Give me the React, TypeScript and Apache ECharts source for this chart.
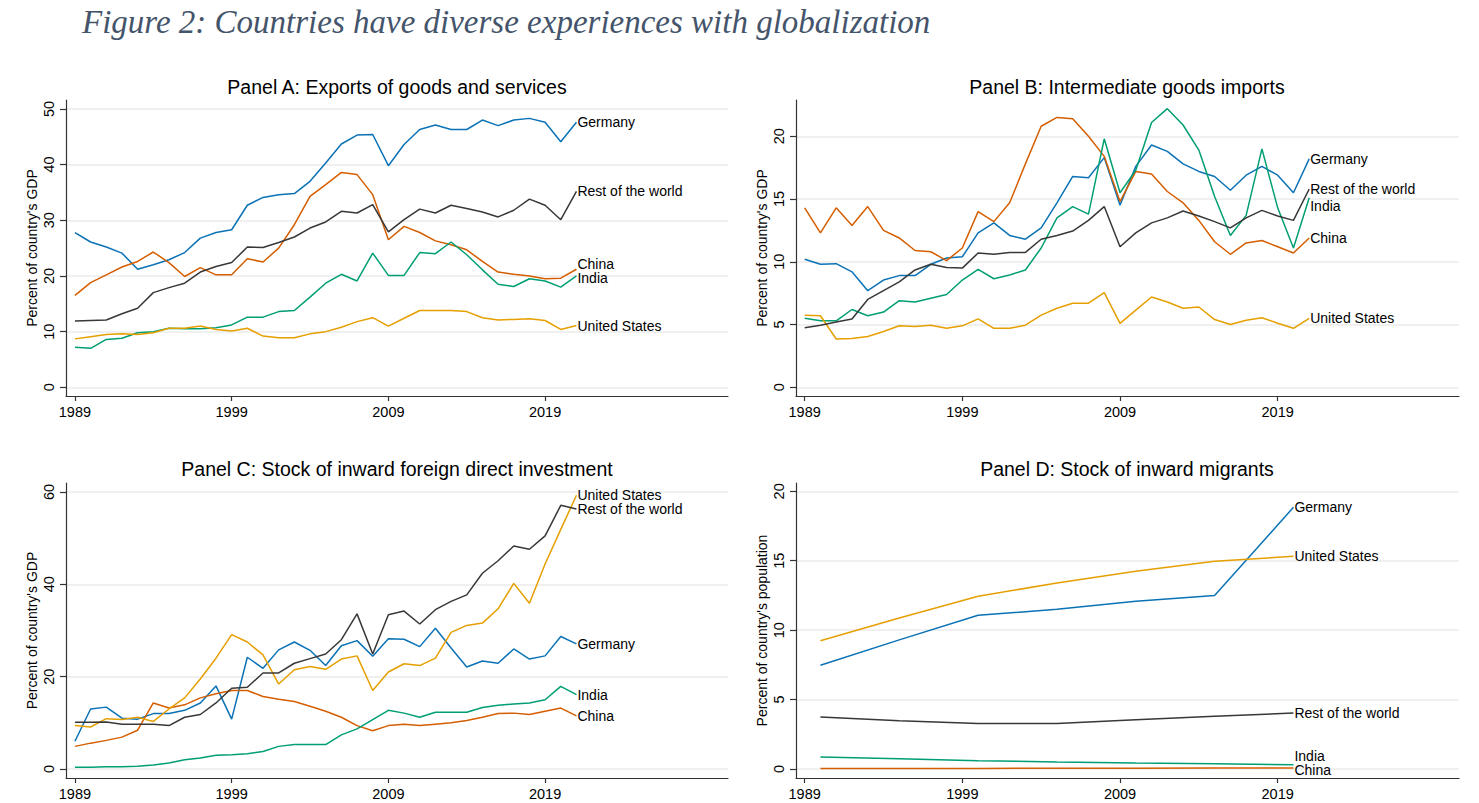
import React, { useEffect, useRef } from "react";
import * as echarts from "echarts";

// ---------- data ----------
const years = [1989, 1990, 1991, 1992, 1993, 1994, 1995, 1996, 1997, 1998, 1999, 2000, 2001, 2002, 2003, 2004, 2005, 2006, 2007, 2008, 2009, 2010, 2011, 2012, 2013, 2014, 2015, 2016, 2017, 2018, 2019, 2020, 2021];
const migrantYears = [1990, 1995, 2000, 2005, 2010, 2015, 2020];
const xTicks = [1989, 1999, 2009, 2019];

// Panel A: exports of goods and services (% of GDP)
const exportsGermany = [27.8, 26.1, 25.2, 24.1, 21.2, 22.0, 22.9, 24.2, 26.8, 27.8, 28.3, 32.7, 34.1, 34.6, 34.8, 37.0, 40.3, 43.7, 45.3, 45.4, 39.8, 43.6, 46.3, 47.1, 46.3, 46.3, 48.0, 47.0, 48.0, 48.3, 47.6, 44.1, 47.6];
const exportsChina = [16.5, 18.8, 20.2, 21.6, 22.6, 24.3, 22.4, 19.9, 21.5, 20.2, 20.2, 23.1, 22.5, 25.0, 29.2, 34.3, 36.4, 38.6, 38.2, 34.6, 26.5, 28.9, 27.8, 26.3, 25.6, 24.7, 22.6, 20.7, 20.3, 20.0, 19.5, 19.6, 21.2];
const exportsIndia = [7.2, 7.0, 8.6, 8.8, 9.8, 10.0, 10.6, 10.5, 10.5, 10.7, 11.2, 12.6, 12.6, 13.6, 13.8, 16.2, 18.7, 20.3, 19.1, 24.1, 20.1, 20.1, 24.2, 24.0, 26.1, 23.8, 21.1, 18.5, 18.1, 19.5, 19.1, 18.0, 20.0];
const exportsUS = [8.7, 9.1, 9.5, 9.6, 9.5, 9.8, 10.6, 10.6, 11.0, 10.4, 10.1, 10.6, 9.2, 8.9, 8.9, 9.6, 10.0, 10.8, 11.8, 12.5, 11.0, 12.4, 13.8, 13.8, 13.8, 13.6, 12.5, 12.1, 12.2, 12.3, 12.0, 10.4, 11.1];
const exportsRoW = [11.9, 12.0, 12.1, 13.2, 14.2, 17.0, 17.9, 18.7, 20.7, 21.7, 22.4, 25.2, 25.1, 26.0, 27.0, 28.6, 29.7, 31.6, 31.3, 32.8, 27.9, 30.1, 32.0, 31.3, 32.7, 32.1, 31.5, 30.6, 31.8, 33.8, 32.7, 30.1, 35.2];

// Panel B: intermediate goods imports (% of GDP)
const interGermany = [10.2, 9.8, 9.85, 9.2, 7.7, 8.55, 8.9, 8.9, 9.8, 10.3, 10.4, 12.3, 13.1, 12.1, 11.8, 12.7, 14.7, 16.8, 16.7, 18.3, 14.5, 17.6, 19.3, 18.8, 17.8, 17.2, 16.8, 15.7, 16.9, 17.6, 16.9, 15.5, 18.2];
const interChina = [14.3, 12.3, 14.3, 12.9, 14.4, 12.5, 11.9, 10.9, 10.8, 10.1, 11.1, 14.0, 13.2, 14.7, 17.8, 20.8, 21.5, 21.4, 20.0, 18.4, 14.8, 17.2, 17.0, 15.6, 14.7, 13.3, 11.6, 10.6, 11.5, 11.7, 11.2, 10.7, 11.9];
const interIndia = [5.5, 5.3, 5.3, 6.2, 5.7, 6.0, 6.9, 6.8, 7.1, 7.4, 8.55, 9.4, 8.65, 8.95, 9.35, 11.1, 13.5, 14.4, 13.8, 19.8, 15.5, 17.3, 21.1, 22.2, 20.9, 18.9, 15.2, 12.1, 13.7, 19.0, 14.3, 11.1, 15.1];
const interUS = [5.75, 5.7, 3.85, 3.9, 4.05, 4.45, 4.9, 4.85, 4.95, 4.7, 4.9, 5.45, 4.7, 4.7, 4.95, 5.75, 6.3, 6.7, 6.7, 7.55, 5.1, 6.15, 7.2, 6.8, 6.3, 6.4, 5.4, 5.0, 5.35, 5.55, 5.1, 4.7, 5.5];
const interRoW = [4.75, 4.95, 5.2, 5.45, 7.0, 7.7, 8.4, 9.35, 9.8, 9.55, 9.5, 10.7, 10.6, 10.75, 10.75, 11.8, 12.1, 12.45, 13.3, 14.4, 11.2, 12.3, 13.1, 13.5, 14.05, 13.65, 13.2, 12.7, 13.5, 14.1, 13.65, 13.3, 15.8];

// Panel C: stock of inward FDI (% of GDP)
const fdiGermany = [6.0, 13.0, 13.4, 11.0, 10.8, 12.0, 12.0, 12.7, 14.3, 18.0, 10.8, 24.2, 21.8, 25.8, 27.5, 25.7, 22.4, 26.7, 27.8, 24.4, 28.2, 28.1, 26.5, 30.5, 26.2, 22.1, 23.4, 22.9, 26.0, 23.8, 24.5, 28.7, 27.1];
const fdiChina = [4.9, 5.6, 6.2, 6.9, 8.4, 14.3, 13.2, 13.9, 15.4, 16.3, 17.0, 17.0, 15.7, 15.1, 14.6, 13.6, 12.5, 11.2, 9.4, 8.3, 9.4, 9.7, 9.4, 9.7, 10.0, 10.5, 11.2, 12.0, 12.1, 11.8, 12.5, 13.2, 11.5];
const fdiIndia = [0.4, 0.4, 0.5, 0.5, 0.6, 0.85, 1.3, 2.0, 2.4, 3.0, 3.1, 3.3, 3.8, 4.9, 5.3, 5.3, 5.3, 7.4, 8.7, 10.7, 12.7, 12.1, 11.2, 12.3, 12.3, 12.3, 13.3, 13.8, 14.1, 14.3, 15.0, 17.9, 16.1];
const fdiUS = [9.4, 9.1, 10.9, 10.7, 11.2, 10.3, 13.0, 15.4, 19.5, 24.0, 29.1, 27.5, 24.7, 18.4, 21.5, 22.2, 21.6, 23.8, 24.5, 17.0, 21.0, 22.8, 22.4, 24.0, 29.6, 31.1, 31.6, 34.7, 40.2, 35.9, 44.4, 51.9, 59.3];
const fdiRoW = [10.1, 10.1, 10.2, 9.7, 9.7, 9.7, 9.4, 11.2, 11.8, 14.3, 17.5, 17.7, 20.8, 20.8, 22.9, 23.9, 24.9, 28.0, 33.6, 24.9, 33.4, 34.2, 31.4, 34.5, 36.3, 37.7, 42.4, 45.1, 48.3, 47.6, 50.5, 57.1, 56.3];

// Panel D: stock of inward migrants (% of population)
const migGermany = [7.47, 9.3, 11.07, 11.5, 12.08, 12.5, 18.85];
const migChina = [0.04, 0.04, 0.04, 0.05, 0.06, 0.07, 0.07];
const migIndia = [0.86, 0.74, 0.6, 0.5, 0.43, 0.38, 0.31];
const migUS = [9.24, 10.88, 12.44, 13.4, 14.24, 14.96, 15.32];
const migRoW = [3.75, 3.48, 3.27, 3.27, 3.55, 3.79, 4.03];

const panelTitles = [
  "Panel A: Exports of goods and services",
  "Panel B: Intermediate goods imports",
  "Panel C: Stock of inward foreign direct investment",
  "Panel D: Stock of inward migrants",
];
const yTicksA = [0, 10, 20, 30, 40, 50];
const yTicksB = [0, 5, 10, 15, 20];
const yTicksC = [0, 20, 40, 60];
const yTicksD = [0, 5, 10, 15, 20];

const COLORS: Record<string, string> = {
  Germany: "#0a72b5",
  China: "#d55e00",
  India: "#009e73",
  "United States": "#e69f00",
  "Rest of the world": "#383838",
};

const SANS = "'Liberation Sans', Arial, sans-serif";

function zip(xs: number[], ys: number[]) {
  return xs.map((x, i) => [x, ys[i]]);
}

function mkSeries(idx: number, name: string, xs: number[], ys: number[], offsetY = 0) {
  return {
    type: "line",
    name,
    xAxisIndex: idx,
    yAxisIndex: idx,
    data: zip(xs, ys),
    showSymbol: false,
    symbol: "none",
    lineStyle: { color: COLORS[name], width: 1.5 },
    itemStyle: { color: COLORS[name] },
    emphasis: { disabled: true },
    endLabel: {
      show: true,
      formatter: name,
      color: "#000",
      fontFamily: SANS,
      fontSize: 14,
      lineHeight: 12,
      distance: 1,
      offset: [0, offsetY],
    },
  };
}

const gridsPx = [
  { left: 66, top: 100, width: 662, height: 296 },
  { left: 796, top: 100, width: 663, height: 296 },
  { left: 66, top: 483, width: 662, height: 295 },
  { left: 796, top: 483, width: 663, height: 295 },
];
const xRanges = [
  [1988.43, 2030.67],
  [1988.45, 2030.5],
  [1988.43, 2030.67],
  [1988.45, 2030.5],
];
const yRanges = [
  [-1.56, 51.6],
  [-0.69, 22.89],
  [-1.95, 61.94],
  [-0.65, 20.6],
];
const yTickSets = [yTicksA, yTicksB, yTicksC, yTicksD];
const yNames = ["Percent of country's GDP", "Percent of country's GDP", "Percent of country's GDP", "Percent of country's population"];
const titleCenters = [
  [397, 77],
  [1127, 77],
  [397, 459],
  [1127, 459],
];

function buildOption() {
  const axisLineStyle = { color: "#333", width: 1.2 };
  const xAxis = gridsPx.map((_, i) => ({
    type: "value",
    gridIndex: i,
    min: xRanges[i][0],
    max: xRanges[i][1],
    axisLine: { show: true, onZero: false, lineStyle: axisLineStyle },
    axisTick: { show: true, length: 5, lineStyle: axisLineStyle, customValues: xTicks },
    axisLabel: {
      show: true,
      customValues: xTicks,
      formatter: (v: number) => String(v),
      color: "#000",
      fontFamily: SANS,
      fontSize: 14.5,
      margin: 8,
    },
    splitLine: { show: false },
  }));
  const yAxis = gridsPx.map((_, i) => ({
    type: "value",
    gridIndex: i,
    min: yRanges[i][0],
    max: yRanges[i][1],
    name: yNames[i],
    nameLocation: "middle",
    nameGap: 27,
    nameRotate: 90,
    nameTextStyle: { color: "#000", fontFamily: SANS, fontSize: 14 },
    axisLine: { show: true, onZero: false, lineStyle: axisLineStyle },
    axisTick: { show: true, length: 6, lineStyle: axisLineStyle, customValues: yTickSets[i] },
    axisLabel: {
      show: true,
      rotate: 90,
      customValues: yTickSets[i],
      formatter: (v: number) => String(v),
      color: "#000",
      fontFamily: SANS,
      fontSize: 14.5,
      margin: 10,
    },
    splitLine: { show: true, lineStyle: { color: "#ebebeb", width: 1.5 } },
  }));

  const series = [
    mkSeries(0, "Germany", years, exportsGermany),
    mkSeries(0, "China", years, exportsChina, -5),
    mkSeries(0, "India", years, exportsIndia, 2),
    mkSeries(0, "United States", years, exportsUS),
    mkSeries(0, "Rest of the world", years, exportsRoW),

    mkSeries(1, "Germany", years, interGermany),
    mkSeries(1, "China", years, interChina),
    mkSeries(1, "India", years, interIndia, 8),
    mkSeries(1, "United States", years, interUS),
    mkSeries(1, "Rest of the world", years, interRoW),

    mkSeries(2, "Germany", years, fdiGermany),
    mkSeries(2, "China", years, fdiChina),
    mkSeries(2, "India", years, fdiIndia),
    mkSeries(2, "United States", years, fdiUS),
    mkSeries(2, "Rest of the world", years, fdiRoW),

    mkSeries(3, "Germany", migrantYears, migGermany),
    mkSeries(3, "China", migrantYears, migChina, 2),
    mkSeries(3, "India", migrantYears, migIndia, -9),
    mkSeries(3, "United States", migrantYears, migUS),
    mkSeries(3, "Rest of the world", migrantYears, migRoW),
  ];

  const titles: any[] = [
    {
      text: "Figure 2: Countries have diverse experiences with globalization",
      left: 82,
      top: 5,
      padding: 0,
      textStyle: {
        fontFamily: "'Liberation Serif', 'Times New Roman', serif",
        fontStyle: "italic",
        fontWeight: "normal",
        fontSize: 33,
        color: "#44546a",
      },
    },
    ...panelTitles.map((t, i) => ({
      text: t,
      left: titleCenters[i][0],
      top: titleCenters[i][1],
      padding: 0,
      textAlign: "center",
      textStyle: { fontFamily: SANS, fontWeight: "normal", fontSize: 19.5, color: "#000" },
    })),
  ];

  return {
    animation: false,
    backgroundColor: "#ffffff",
    title: titles,
    grid: gridsPx.map((g) => ({ ...g, containLabel: false })),
    xAxis,
    yAxis,
    series,
  };
}

export default function App() {
  const ref = useRef<HTMLDivElement>(null);
  useEffect(() => {
    if (!ref.current) return;
    const chart = echarts.init(ref.current, undefined, { renderer: "svg" });
    chart.setOption(buildOption() as any);
    return () => chart.dispose();
  }, []);
  return (
    <div
      ref={ref}
      style={{ position: "fixed", left: 0, top: 0, width: 1479, height: 803, background: "#fff" }}
    />
  );
}
